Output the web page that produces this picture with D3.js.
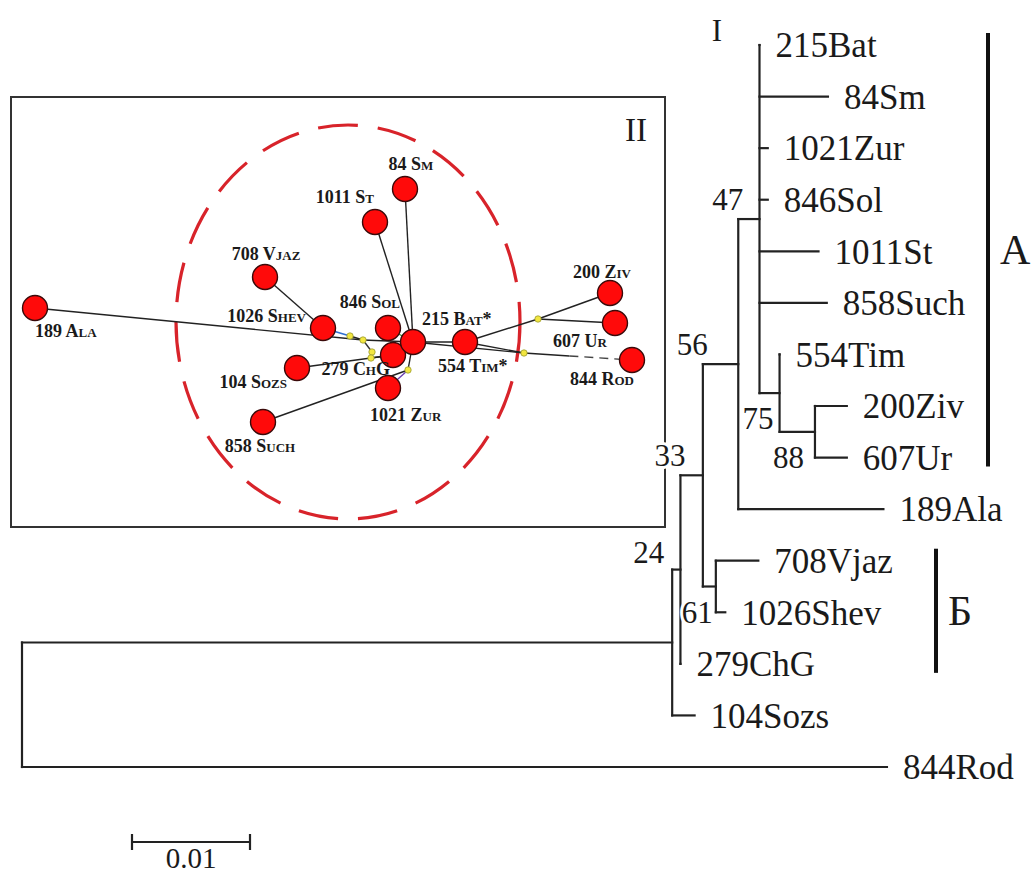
<!DOCTYPE html>
<html><head><meta charset="utf-8">
<script src="https://cdn.jsdelivr.net/npm/d3@7"></script>
<style>
body{margin:0;background:#fff}
svg{display:block}
text{font-family:"Liberation Serif","Times New Roman",Times,serif;fill:#1a1a1a}
</style>
</head><body>
<svg id="c" width="1034" height="875" font-family="Liberation Serif, Times New Roman, serif"></svg>
<script>
// ---------- Tree data ----------
const tipOrder = ["215Bat","84Sm","1021Zur","846Sol","1011St","858Such","554Tim","200Ziv","607Ur","189Ala","708Vjaz","1026Shev","279ChG","104Sozs","844Rod"];
const treeIds     = ["root","n24","844Rod","n33","104Sozs","n56","279ChG","n47","n61","nA","189Ala","708Vjaz","1026Shev","215Bat","84Sm","1021Zur","846Sol","1011St","858Such","n75","554Tim","n88","200Ziv","607Ur"];
const treeParents = ["","root","root","n24","n24","n33","n33","n56","n56","n47","n47","n61","n61","nA","nA","nA","nA","nA","nA","nA","n75","n75","n88","n88"];
const branchLengths = [0,0.0551,0.0733,0.0007,0.0019,0.0019,0.0000,0.0030,0.0011,0.0018,0.0123,0.0036,0.0008,0.0000,0.0058,0.0007,0.0007,0.0050,0.0057,0.0017,0.0000,0.0030,0.0027,0.0027];
const bootNodes  = ["nA","n47","n56","n33","n75","n88","n61"];
const bootValues = [47,56,33,24,75,88,61];
const clusterNames = ["A","Б"];
const clusterFirst = ["215Bat","708Vjaz"];
const clusterLast  = ["607Ur","279ChG"];
const scaleBarValue = 0.01;
const scaleBarLabel = "0.01";

// ---------- Network data ----------
const netNames = ["189 Ala","708 Vjaz","1026 Shev","104 Sozs","858 Such","279 ChG","1021 Zur","846 Sol","215 Bat*","554 Tim*","84 Sm","1011 St","200 Ziv","607 Ur","844 Rod"];
const netX = [24,254,312,286,252,382,377,377,402,454,394,364,599,604,621];
const netY = [211,180,231,271,325,258,291,231,245,245,92,125,196,226,263];
const medianIds = ["m1","m2","m3","m4","m5","m6","m7"];
const medianX = [339,352,361,360,397,527,513];
const medianY = [239,243,255,261,273,222,256];
const edgeFrom = ["189 Ala","708 Vjaz","1026 Shev","m1","m2","m3","m4","104 Sozs","858 Such","m5","m5","279 ChG","846 Sol","84 Sm","1011 St","215 Bat*","554 Tim*","m6","m6","554 Tim*","215 Bat*","m7","m2"];
const edgeTo   = ["m2","1026 Shev","m1","m2","m3","m4","279 ChG","279 ChG","m5","1021 Zur","215 Bat*","215 Bat*","215 Bat*","215 Bat*","215 Bat*","554 Tim*","m6","200 Ziv","607 Ur","m7","m7","844 Rod","215 Bat*"];
const clusterEllipse = {cx:337, cy:225, rx:172, ry:197};
const panelLabels = ["I","II"];

// ---------- Drawing ----------
const svg = d3.select("#c");
const FONT = "Liberation Serif, Times New Roman, serif";

// Inset panel
const box = {x0:11, y0:97, x1:665, y1:527};
const nx = d3.scaleLinear().domain([0,654]).range([box.x0, box.x1]);
const ny = d3.scaleLinear().domain([0,430]).range([box.y0, box.y1]);

svg.append("rect").attr("x",box.x0).attr("y",box.y0)
  .attr("width",box.x1-box.x0).attr("height",box.y1-box.y0)
  .attr("fill","none").attr("stroke","#333").attr("stroke-width",2);

svg.append("text").attr("font-family",FONT).attr("x",box.x1-18).attr("y",141).attr("text-anchor","end")
  .attr("font-size",33).text(panelLabels[1]);

svg.append("ellipse")
  .attr("cx",nx(clusterEllipse.cx)).attr("cy",ny(clusterEllipse.cy))
  .attr("rx",nx(clusterEllipse.rx)-nx(0)).attr("ry",ny(clusterEllipse.ry)-ny(0))
  .attr("fill","none").attr("stroke","#d8232a").attr("stroke-width",3.2)
  .attr("stroke-dasharray","40,20");

const pos = {};
netNames.forEach((n,i)=>pos[n]=[nx(netX[i]),ny(netY[i])]);
medianIds.forEach((n,i)=>pos[n]=[nx(medianX[i]),ny(medianY[i])]);

const edgeColor = {"1026 Shev|m1":"#2f6fd0","m5|1021 Zur":"#6a3fb0","846 Sol|215 Bat*":"#3a9a3a","m2|m3":"#333"};
edgeFrom.forEach((f,i)=>{
  const t = edgeTo[i];
  const a = pos[f], b = pos[t];
  const key = f+"|"+t;
  if (t==="844 Rod") {
    const mx = a[0]+(b[0]-a[0])*0.42, my = a[1]+(b[1]-a[1])*0.42;
    svg.append("line").attr("x1",a[0]).attr("y1",a[1]).attr("x2",mx).attr("y2",my)
      .attr("stroke","#222").attr("stroke-width",1.4);
    svg.append("line").attr("x1",mx).attr("y1",my).attr("x2",b[0]).attr("y2",b[1])
      .attr("stroke","#444").attr("stroke-width",1.4).attr("stroke-dasharray","9,6");
  } else {
    svg.append("line").attr("x1",a[0]).attr("y1",a[1]).attr("x2",b[0]).attr("y2",b[1])
      .attr("stroke",edgeColor[key]||"#222").attr("stroke-width",1.4);
  }
});

medianIds.forEach(m=>{
  svg.append("circle").attr("cx",pos[m][0]).attr("cy",pos[m][1]).attr("r",3.2)
    .attr("fill","#f2e640").attr("stroke","#9a9a30").attr("stroke-width",0.8);
});

netNames.forEach(n=>{
  svg.append("circle").attr("cx",pos[n][0]).attr("cy",pos[n][1]).attr("r",12.5)
    .attr("fill","#ff0a0a").attr("stroke","#3a0a0a").attr("stroke-width",1.4);
});

const netLabelLayout = {
  "189 Ala":["start",0,29], "708 Vjaz":["middle",1,-17], "1026 Shev":["end",-17,-6],
  "104 Sozs":["end",-10,20], "858 Such":["middle",-3,30], "279 ChG":["end",-3,20],
  "1021 Zur":["start",-18,33], "846 Sol":["end",12,-20], "215 Bat*":["start",9,-17],
  "554 Tim*":["start",-27,30], "84 Sm":["middle",6,-19], "1011 St":["end",-1,-19],
  "200 Ziv":["middle",-8,-15], "607 Ur":["middle",-35,24], "844 Rod":["middle",-30,25]
};
netNames.forEach(n=>{
  const L = netLabelLayout[n];
  svg.append("text").attr("font-family",FONT).attr("x",pos[n][0]+L[1]).attr("y",pos[n][1]+L[2])
    .attr("text-anchor",L[0]).attr("font-size",18).attr("font-weight","bold")
    .style("font-variant","small-caps").attr("fill","#222").text(n);
});

// Tree
const root = d3.stratify().id((d,i)=>treeIds[i]).parentId((d,i)=>treeParents[i]||null)(treeIds.map((id,i)=>({id,len:branchLengths[i]})));
const xs = d3.scaleLinear().domain([0, scaleBarValue]).range([22, 140]);
const ys = d3.scalePoint().domain(tipOrder).range([45, 767]);

root.eachBefore(n=>{ n.dist = (n.parent? n.parent.dist : 0) + n.data.len; n.px = xs(n.dist); });
root.eachAfter(n=>{
  if (!n.children) n.py = ys(n.id);
  else { const cy = n.children.map(c=>c.py); n.py = (d3.min(cy)+d3.max(cy))/2; }
});

const tg = svg.append("g").attr("stroke","#222").attr("stroke-width",2.2).attr("stroke-linecap","square");
root.each(n=>{
  if (n.parent) tg.append("line").attr("x1",n.parent.px).attr("x2",n.px).attr("y1",n.py).attr("y2",n.py);
  if (n.children) {
    const cy = n.children.map(c=>c.py);
    tg.append("line").attr("x1",n.px).attr("x2",n.px).attr("y1",d3.min(cy)).attr("y2",d3.max(cy));
  }
});

root.leaves().forEach(n=>{
  svg.append("text").attr("font-family",FONT).attr("x",n.px+16).attr("y",n.py).attr("dy","0.35em")
    .attr("font-size",35).text(n.id);
});

const nodeById = {};
root.each(n=>nodeById[n.id]=n);
const below = {"n75":-6,"n88":-11,"n61":-3};
bootNodes.forEach((id,i)=>{
  const n = nodeById[id];
  let x, y;
  if (id in below) { x = n.px + below[id]; y = n.py + 36; }
  else if (id==="n33") { x = n.parent.px - 8; y = n.py - 7; }
  else { x = n.parent.px + 5; y = n.py - 9; }
  svg.append("text").attr("font-family",FONT).attr("x",x).attr("y",y).attr("text-anchor","end")
    .attr("font-size",31).attr("stroke","#fff").attr("stroke-width",6)
    .attr("paint-order","stroke").text(bootValues[i]);
});

// cluster bars
const barX = [988, 936];
clusterNames.forEach((c,i)=>{
  const y0 = ys(clusterFirst[i]) - 12, y1 = ys(clusterLast[i]) + 9;
  svg.append("line").attr("x1",barX[i]).attr("x2",barX[i]).attr("y1",y0).attr("y2",y1)
    .attr("stroke","#111").attr("stroke-width",4);
  svg.append("text").attr("font-family",FONT).attr("x",barX[i]+12).attr("y",(y0+y1)/2).attr("dy","0.35em")
    .attr("font-size",42).text(c);
});

svg.append("text").attr("font-family",FONT).attr("x",717).attr("y",30).attr("dy","0.35em").attr("text-anchor","middle")
  .attr("font-size",31).text(panelLabels[0]);

// scale bar
const sb0 = 132, sb1 = sb0 + (xs(scaleBarValue)-xs(0)), sby = 842;
const sg = svg.append("g").attr("stroke","#222").attr("stroke-width",2.2);
sg.append("line").attr("x1",sb0).attr("x2",sb1).attr("y1",sby).attr("y2",sby);
sg.append("line").attr("x1",sb0).attr("x2",sb0).attr("y1",sby-8).attr("y2",sby+8);
sg.append("line").attr("x1",sb1).attr("x2",sb1).attr("y1",sby-8).attr("y2",sby+8);
svg.append("text").attr("font-family",FONT).attr("x",(sb0+sb1)/2).attr("y",868).attr("text-anchor","middle")
  .attr("font-size",29).text(scaleBarLabel);
</script>
</body></html>
